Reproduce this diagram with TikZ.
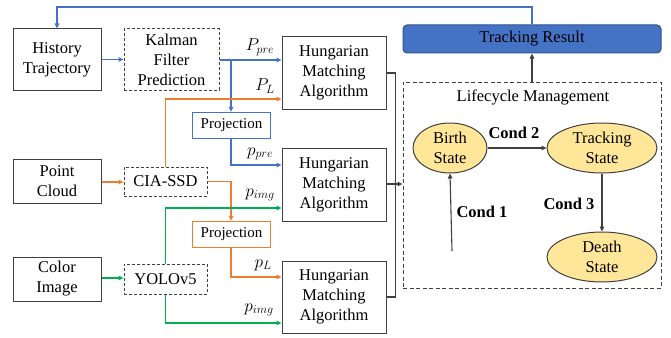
\documentclass[tikz,border=0pt]{standalone}
\usepackage{fontspec}
\setmainfont{Liberation Serif}
\usetikzlibrary{arrows.meta,positioning,calc,shapes.geometric}
\definecolor{TrkBlue}{HTML}{4472C4}
\definecolor{TrkBlueDark}{HTML}{2F528F}
\definecolor{TrkOrange}{HTML}{ED7D31}
\definecolor{TrkGreen}{HTML}{00B050}
\definecolor{TrkGray}{HTML}{404040}
\definecolor{TrkYellow}{HTML}{FFE699}
\begin{document}
\begin{tikzpicture}[
    x=1pt, y=-1pt,
    box/.style={
      draw=TrkGray,
      line width=1pt,
      inner sep=0pt,
      align=center,
      font=\rmfamily\fontsize{16.5}{20}\selectfont
    },
    dbox/.style={
      box,
      line width=1pt,
      dash pattern=on 3pt off 2pt
    },
    projbox/.style={
      draw=#1,
      line width=1.3pt,
      inner sep=0pt,
      minimum width=78pt,
      minimum height=26pt,
      font=\rmfamily\fontsize{15}{18}\selectfont
    },
    state/.style={
      ellipse,
      draw=TrkGray,
      fill=TrkYellow,
      line width=1pt,
      inner sep=0pt,
      align=center,
      minimum height=50pt,
      font=\rmfamily\fontsize{16.5}{20}\selectfont
    },
    arr/.style={
      -{Triangle[length=5pt,width=4.5pt]},
      line width=1.5pt,
      color=#1
    },
    karr/.style={
      -{Triangle[length=5pt,width=4.5pt]},
      line width=1.1pt,
      color=TrkGray
    },
    lbl/.style={
      font=\fontsize{17}{18}\selectfont
    },
    cond/.style={
      font=\rmfamily\fontsize{16.5}{20}\selectfont\bfseries
    }
  ]
  \useasboundingbox (0,0) rectangle (671,337);

  % Inputs and detectors
  \node[box, minimum width=88pt, minimum height=61pt] (hist) at (57,59.5)
    {History\\Trajectory};
  \node[dbox, minimum width=95pt, minimum height=61pt] (kalman) at (171.5,59.5)
    {Kalman\\Filter\\Prediction};
  \node[box, minimum width=88pt, minimum height=44pt] (cloud) at (57,181)
    {Point\\Cloud};
  \node[box, minimum width=88pt, minimum height=44pt] (image) at (57,279)
    {Color\\Image};
  \node[dbox, minimum width=83pt, minimum height=29pt] (cia) at (165.5,181.5)
    {CIA-SSD};
  \node[dbox, minimum width=83pt, minimum height=30pt] (yolo) at (165.5,279)
    {YOLOv5};

  \node[projbox=TrkBlue]   (proj1) at (231.5,125.5) {Projection};
  \node[projbox=TrkOrange] (proj2) at (231.5,234.5) {Projection};

  % Matching
  \node[box, minimum width=104pt, minimum height=72pt] (hung1) at (334,73)
    {Hungarian\\Matching\\Algorithm};
  \node[box, minimum width=104pt, minimum height=73pt] (hung2) at (334,184.5)
    {Hungarian\\Matching\\Algorithm};
  \node[box, minimum width=104pt, minimum height=72pt] (hung3) at (334,297)
    {Hungarian\\Matching\\Algorithm};

  % Lifecycle
  \node[draw=TrkBlueDark, fill=TrkBlue, line width=1pt, rounded corners=4pt,
        minimum width=258pt, minimum height=28pt, inner sep=0pt,
        font=\rmfamily\fontsize{16.5}{20}\selectfont] (result) at (532,39)
    {Tracking Result};
  \node[draw=TrkGray, line width=1pt, dash pattern=on 4pt off 2.5pt,
        minimum width=258pt, minimum height=206pt, inner sep=0pt] (life) at (532,185) {};
  \node[font=\rmfamily\fontsize{16.5}{20}\selectfont] (lifet) at (533,97) {Lifecycle Management};

  \node[state, minimum width=74pt]  (birth) at (450,148) {Birth\\State};
  \node[state, minimum width=110pt] (track) at (602,148) {Tracking\\State};
  \node[state, minimum width=110pt] (death) at (602,257) {Death\\State};
  \coordinate (newobj) at (452,251);

  % Blue paths
  \coordinate (topline) at (0,7);
  \draw[arr=TrkBlue] (result.north) -- (result.north |- topline) -| (hist.north);
  \draw[arr=TrkBlue] (hist.east) -- (kalman.west);
  \draw[arr=TrkBlue] (kalman.east |- 0,60) -- (hung1.west |- 0,60);
  \coordinate (kb) at (231,60);
  \draw[arr=TrkBlue] (kb) -- (kb |- proj1.north);
  \draw[arr=TrkBlue] (kb |- proj1.south) |- ($(hung2.west)+(0,-19.5)$);

  % Orange paths
  \draw[arr=TrkOrange] (cloud.east |- 0,182) -- (cia.west |- 0,182);
  \draw[arr=TrkOrange] (cia.north) |- ($(hung1.west)+(0,26)$);
  \draw[arr=TrkOrange] (cia.east) -| (kb |- proj2.north);
  \draw[arr=TrkOrange] (kb |- proj2.south) |- ($(hung3.west)+(0,-20)$);

  % Green paths
  \draw[arr=TrkGreen] (image.east |- 0,278) -- (yolo.west |- 0,278);
  \draw[arr=TrkGreen] (yolo.north) |- ($(hung2.west)+(0,23.5)$);
  \draw[arr=TrkGreen] (yolo.south) |- ($(hung3.west)+(0,26)$);

  % Merge into lifecycle
  \draw[line width=1.1pt, TrkGray] (hung1.east) -- ++(9,0) |- (hung3.east);
  \draw[karr] (hung2.east |- 0,184) -- (life.west |- 0,184);
  \draw[karr] (life.north) -- (result.south);

  \draw[karr] (birth.east) -- (track.west);
  \draw[karr] (track.south) -- (death.north);
  \draw[karr] (newobj) -- (birth.south);

  % Edge labels
  \node[lbl] (l1) at (260,47)  {$P_{pre}$};
  \node[lbl] (l2) at (265,86)  {$P_{L}$};
  \node[lbl] (l3) at (260,154) {$p_{pre}$};
  \node[lbl] (l4) at (260,195) {$p_{img}$};
  \node[lbl] (l5) at (263,265) {$p_{L}$};
  \node[lbl] (l6) at (259,310) {$p_{img}$};
  \node[cond] (c1) at (482,212) {Cond 1};
  \node[cond] (c2) at (514,133) {Cond 2};
  \node[cond] (c3) at (569,204) {Cond 3};

\end{tikzpicture}
\end{document}
